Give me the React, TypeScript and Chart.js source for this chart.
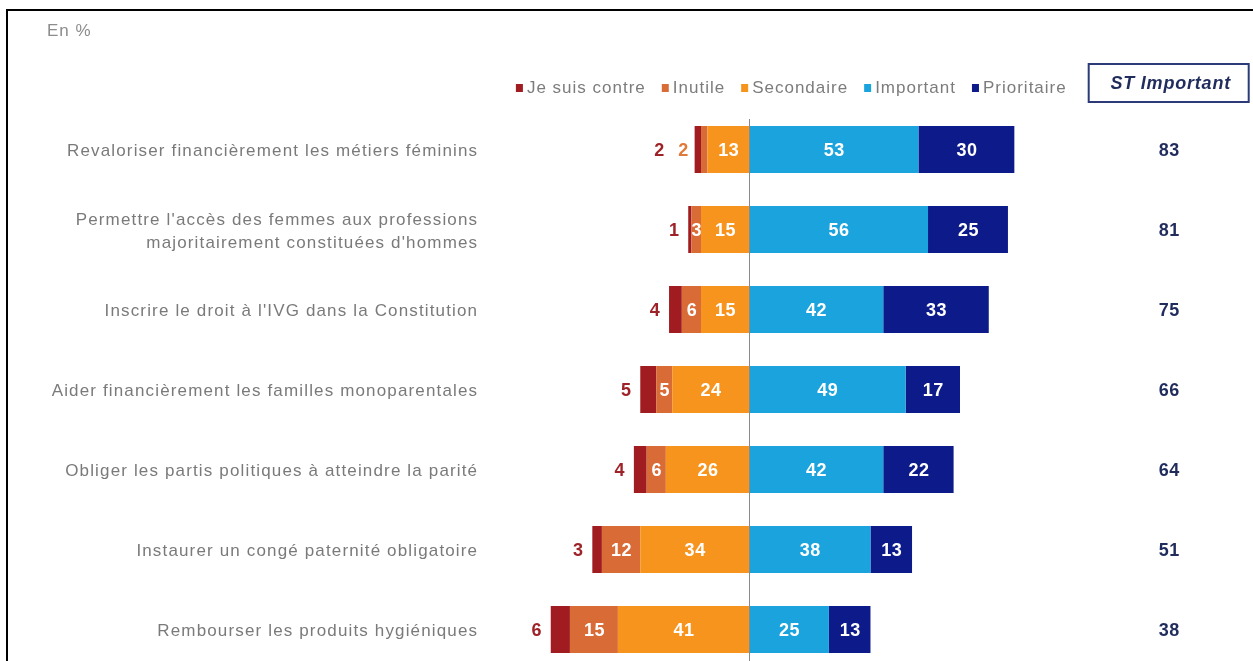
import React, { useEffect, useRef } from "react";
import { Chart, registerables } from "chart.js";

Chart.register(...registerables);

const categories: (string | string[])[] = [
  "Revaloriser financièrement les métiers féminins",
  ["Permettre l'accès des femmes aux professions", "majoritairement constituées d'hommes"],
  "Inscrire le droit à l'IVG dans la Constitution",
  "Aider financièrement les familles monoparentales",
  "Obliger les partis politiques à atteindre la parité",
  "Instaurer un congé paternité obligatoire",
  "Rembourser les produits hygiéniques",
];
const jeSuisContre = [2, 1, 4, 5, 4, 3, 6];
const inutile = [2, 3, 6, 5, 6, 12, 15];
const secondaire = [13, 15, 15, 24, 26, 34, 41];
const important = [53, 56, 42, 49, 42, 38, 25];
const prioritaire = [30, 25, 33, 17, 22, 13, 13];
const stImportant = [83, 81, 75, 66, 64, 51, 38];

const seriesNames = ["Je suis contre", "Inutile", "Secondaire", "Important", "Prioritaire"];
const seriesColors = ["#a01c20", "#d96b37", "#f7941d", "#1ba3dd", "#0c1a8a"];
const stHeader = "ST Important";
const unitLabel = "En %";

const FONT = '"Liberation Sans", Arial, sans-serif';
const RED_LABEL = "#9e2328";
const ORANGE_LABEL = "#e07a3a";
const NAVY_TEXT = "#1f2c5c";

const decor = {
  id: "decor",
  beforeDraw(chart: any) {
    chart.ctx.letterSpacing = "1.15px";
  },
  afterDatasetsDraw(chart: any) {
    const { ctx, chartArea, scales } = chart;
    const x0 = scales.x.getPixelForValue(0);
    ctx.save();
    // zero line
    ctx.strokeStyle = "#8a8a8a";
    ctx.lineWidth = 1;
    const lx = Math.round(x0) + 0.5;
    ctx.beginPath();
    ctx.moveTo(lx, chartArea.top + 9.5);
    ctx.lineTo(lx, chart.height);
    ctx.stroke();

    ctx.font = `bold 18px ${FONT}`;
    ctx.letterSpacing = "0.5px";
    ctx.textAlign = "center";
    ctx.textBaseline = "middle";
    chart.data.datasets.forEach((ds: any, di: number) => {
      const meta = chart.getDatasetMeta(di);
      meta.data.forEach((el: any, i: number) => {
        const v = Math.abs(ds.data[i]);
        if (ds.key === "contre") return;
        if (ds.key === "inutile" && v <= 2) return;
        const { x, base, y } = el.getProps(["x", "base", "y"], true);
        ctx.fillStyle = "#ffffff";
        ctx.fillText(String(v), (x + base) / 2 + 0.5, y + 2);
      });
    });

    const cIdx = chart.data.datasets.findIndex((d: any) => d.key === "contre");
    const cMeta = chart.getDatasetMeta(cIdx);
    cMeta.data.forEach((el: any, i: number) => {
      const { x, base, y } = el.getProps(["x", "base", "y"], true);
      const left = Math.min(x, base);
      if (inutile[i] <= 2) {
        ctx.fillStyle = ORANGE_LABEL;
        ctx.fillText(String(inutile[i]), left - 11, y + 2);
        ctx.fillStyle = RED_LABEL;
        ctx.fillText(String(jeSuisContre[i]), left - 35, y + 2);
      } else {
        ctx.fillStyle = RED_LABEL;
        ctx.fillText(String(jeSuisContre[i]), left - 14, y + 2);
      }
    });
    ctx.restore();
  },
  afterDraw(chart: any) {
    const { ctx, chartArea, scales } = chart;
    ctx.save();
    ctx.textBaseline = "middle";
    ctx.textAlign = "left";
    ctx.letterSpacing = "1px";
    ctx.font = `17px ${FONT}`;
    ctx.fillStyle = "#8c8c8c";
    ctx.fillText(unitLabel, 47, 31);

    // legend
    const box = 7;
    const boxGap = 4;
    const itemGap = 16;
    const widths = seriesNames.map((n) => ctx.measureText(n).width);
    const total =
      widths.reduce((a, b) => a + b, 0) +
      seriesNames.length * (box + boxGap) +
      (seriesNames.length - 1) * itemGap;
    let lx = chartArea.right - 2 - total;
    const ly = 88;
    seriesNames.forEach((n, k) => {
      ctx.fillStyle = seriesColors[k];
      ctx.fillRect(lx, ly - 4, box, 8);
      lx += box + boxGap;
      ctx.fillStyle = "#7c7c7c";
      ctx.fillText(n, lx, ly);
      lx += widths[k] + itemGap;
    });

    // ST column
    const colX = chartArea.right + 100;
    ctx.strokeStyle = "#2c3a78";
    ctx.lineWidth = 2;
    ctx.strokeRect(colX - 80, 64, 160, 38);
    ctx.font = `italic bold 18px ${FONT}`;
    ctx.letterSpacing = "0.8px";
    ctx.fillStyle = NAVY_TEXT;
    ctx.textAlign = "center";
    ctx.fillText(stHeader, colX + 2, 84);
    ctx.font = `bold 18px ${FONT}`;
    ctx.letterSpacing = "0.5px";
    stImportant.forEach((v, i) => {
      const y = scales.y.getPixelForValue(i);
      ctx.fillText(String(v), colX + 0.5, y + 2);
    });
    ctx.restore();
    ctx.letterSpacing = "0px";
  },
};

export default function App() {
  const ref = useRef<HTMLCanvasElement | null>(null);

  useEffect(() => {
    if (!ref.current) return;
    const neg = (arr: number[]) => arr.map((v) => -v);
    const chart = new Chart(ref.current, {
      type: "bar",
      data: {
        labels: categories,
        datasets: [
          { key: "secondaire", label: seriesNames[2], data: neg(secondaire), backgroundColor: seriesColors[2] },
          { key: "inutile", label: seriesNames[1], data: neg(inutile), backgroundColor: seriesColors[1] },
          { key: "contre", label: seriesNames[0], data: neg(jeSuisContre), backgroundColor: seriesColors[0] },
          { key: "important", label: seriesNames[3], data: important, backgroundColor: seriesColors[3] },
          { key: "prioritaire", label: seriesNames[4], data: prioritaire, backgroundColor: seriesColors[4] },
        ] as any,
      },
      options: {
        indexAxis: "y",
        responsive: false,
        animation: false,
        devicePixelRatio: 1,
        layout: { padding: { left: 0, right: 184.3, top: 109.5, bottom: 30.5 } },
        datasets: { bar: { barPercentage: 0.59, categoryPercentage: 1, borderWidth: 0 } },
        scales: {
          x: {
            stacked: true,
            min: -80,
            max: 100,
            display: false,
          },
          y: {
            stacked: true,
            grid: { display: false, drawTicks: false },
            border: { display: false },
            afterFit: (scale: any) => {
              scale.width = 493.2;
            },
            ticks: {
              padding: 15,
              labelOffset: 2,
              color: "#7a7a7a",
              font: { family: FONT, size: 17, lineHeight: 1.36 },
            },
          },
        },
        plugins: {
          legend: { display: false },
          title: { display: false },
          tooltip: { enabled: false },
        },
      } as any,
      plugins: [decor],
    });
    return () => chart.destroy();
  }, []);

  return (
    <div
      style={{
        position: "fixed",
        left: 0,
        top: 0,
        width: 1253,
        height: 661,
        overflow: "hidden",
        background: "#ffffff",
      }}
    >
      <div
        style={{
          position: "absolute",
          left: 6,
          top: 9,
          width: 1400,
          height: 800,
          border: "2px solid #000",
          boxSizing: "border-box",
        }}
      />
      <canvas
        ref={ref}
        width={1253}
        height={700}
        style={{ position: "absolute", left: 0, top: 0, width: 1253, height: 700 }}
      />
    </div>
  );
}
